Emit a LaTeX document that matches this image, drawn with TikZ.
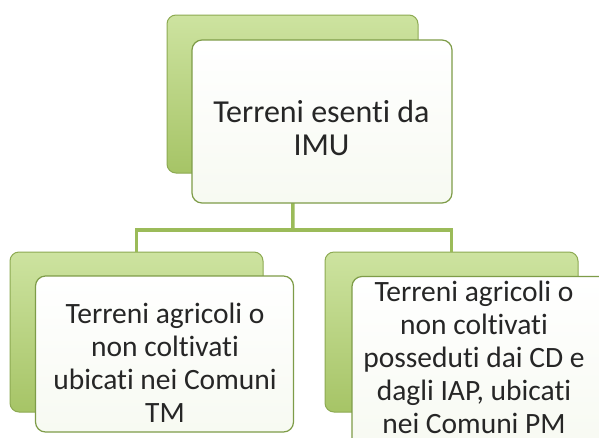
\documentclass[tikz,border=0pt]{standalone}
\usepackage{fontspec}
\setmainfont[Ligatures=NoCommon]{Carlito}
\definecolor{gbacktop}{HTML}{CDE3A0}
\definecolor{gbackbot}{HTML}{A6C466}
\definecolor{gline}{HTML}{9BBB59}
\definecolor{gedge}{HTML}{8DAA52}
\definecolor{fedge}{HTML}{7E9C48}
\definecolor{ftxt}{HTML}{262626}
\begin{document}
\begin{tikzpicture}[x=1pt,y=-1pt,
  backbox/.style={draw=gedge,line width=1pt,rounded corners=9pt,top color=gbacktop,bottom color=gbackbot,inner sep=0pt},
  frontbox/.style={draw=fedge,line width=1.2pt,rounded corners=10pt,top color=white,bottom color=white!92!gline,inner sep=0pt},
  link/.style={draw=gline,line width=3.5pt},
  bigtxt/.style={text=ftxt,align=center,inner sep=0pt,font=\fontsize{32}{33}\selectfont},
  smalltxt/.style={text=ftxt,align=center,inner sep=0pt,font=\fontsize{29.5}{33}\selectfont}]
\useasboundingbox (0,0) rectangle (599,437);
\clip (0,0) rectangle (599,437);
\fill[white] (0,0) rectangle (599,437);
% back boxes
\node[backbox,minimum width=251pt,minimum height=158pt] (topback) at (292.5,94) {};
\node[backbox,minimum width=253pt,minimum height=160pt] (leftback) at (136.5,332) {};
\node[backbox,minimum width=253pt,minimum height=160pt] (rightback) at (451.5,332) {};
% connectors
\coordinate (hub) at (293,230);
\draw[link] (topback.south) -- (hub);
\draw[link] (hub) -| (leftback.north);
\draw[link] (hub) -| (rightback.north);
% front boxes
\node[frontbox,minimum width=260pt,minimum height=163pt] (topfront) at (322,121.5) {};
\node[frontbox,minimum width=258pt,minimum height=156pt] (leftfront) at (164.5,354) {};
\node[frontbox,minimum width=258pt,minimum height=175pt] (rightfront) at (481,364) {};
% texts
\node[bigtxt] (toptxt) at (321.5,128) {Terreni esenti da\\IMU};
\node[smalltxt] (lefttxt) at (165,363) {Terreni agricoli o\\non coltivati\\ubicati nei Comuni\\TM};
\node[smalltxt] (righttxt) at (474,357) {Terreni agricoli o\\non coltivati\\posseduti dai CD e\\dagli IAP, ubicati\\nei Comuni PM};
\end{tikzpicture}
\end{document}
